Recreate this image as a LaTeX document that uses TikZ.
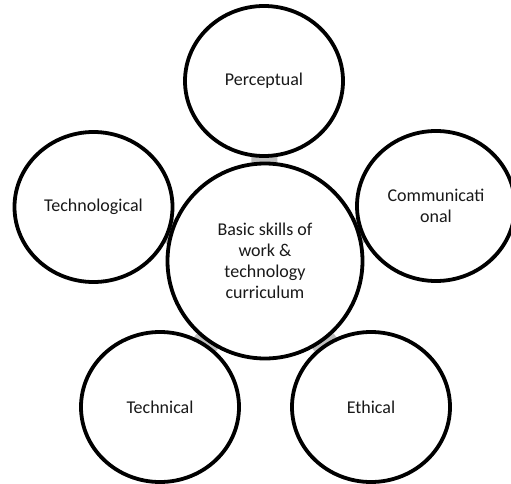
\documentclass[tikz,border=0pt]{standalone}
\usepackage{fontspec}
\setmainfont{Carlito}
\usetikzlibrary{shapes.geometric,backgrounds}
\begin{document}
\begin{tikzpicture}[x=1pt,y=-1pt,
  outer/.style={ellipse,draw=black,line width=3.8pt,fill=white,minimum width=158pt,minimum height=150pt,inner sep=0pt,align=center,font=\fontsize{18}{21}\selectfont,text=black!90},
  hub/.style={circle,draw=black,line width=3.8pt,fill=white,minimum size=195pt,inner sep=0pt,align=center,font=\fontsize{18}{21}\selectfont,text=black!90},
  link/.style={draw=gray!50,line width=26pt}]
\useasboundingbox (0,0) rectangle (511,484);
\clip (0,0) rectangle (511,484);
\node[hub] (c) at (265,261) {Basic skills of\\work \&\\technology\\curriculum};
\node[outer] (p) at (264,81) {Perceptual};
\node[outer] (m) at (436,206) {Communicati\\onal};
\node[outer] (t) at (93.5,207) {Technological};
\node[outer] (k) at (160,407) {Technical};
\node[outer] (e) at (371,407) {Ethical};
\begin{scope}[on background layer]
\draw[link] (c.center) -- (p.center);
\draw[link] (c.center) -- (m.center);
\draw[link] (c.center) -- (t.center);
\draw[link] (c.center) -- (k.center);
\draw[link] (c.center) -- (e.center);
\end{scope}
\end{tikzpicture}
\end{document}
